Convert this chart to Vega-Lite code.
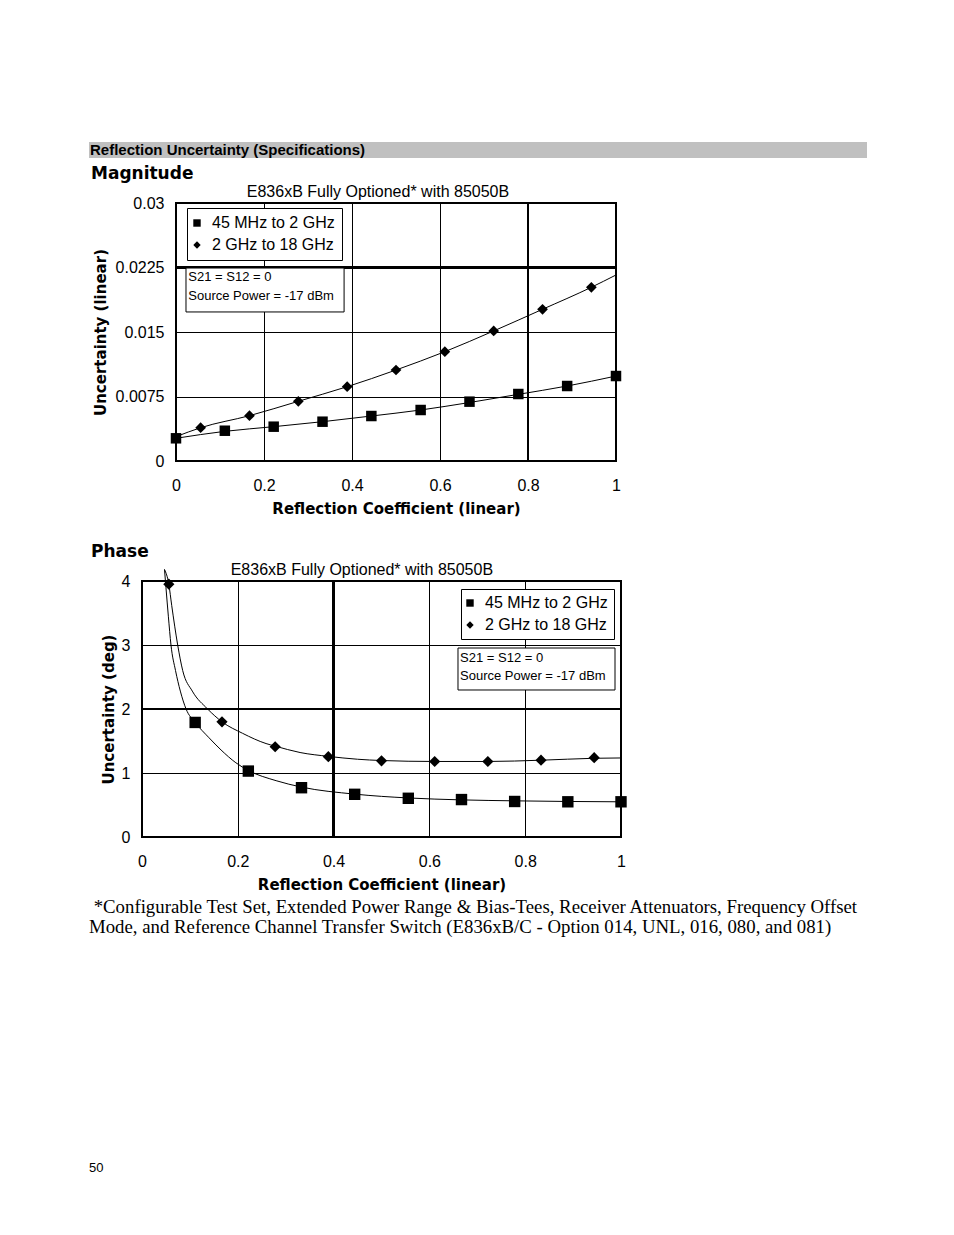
{
  "$schema": "https://vega.github.io/schema/vega-lite/v6.json",
  "background": "white",
  "padding": {"left": 89, "top": 142, "right": 0, "bottom": 0},
  "spacing": 6,
  "title": {
    "text": ["\u200b\u00a0*Configurable Test Set, Extended Power Range & Bias-Tees, Receiver Attenuators, Frequency Offset", "Mode, and Reference Channel Transfer Switch (E836xB/C - Option 014, UNL, 016, 080, and 081)"],
    "subtitle": "50",
    "orient": "bottom",
    "anchor": "start",
    "font": "Liberation Serif",
    "fontSize": 18.8,
    "fontWeight": "normal",
    "lineHeight": 20,
    "offset": 5,
    "color": "black",
    "subtitleFont": "Liberation Sans",
    "subtitleFontSize": 13,
    "subtitleColor": "black",
    "subtitlePadding": 225
  },
  "datasets": {
    "heading": [{"label": "Reflection Uncertainty (Specifications)"}],
    "chartnote": [{"label": "E836xB Fully Optioned* with 85050B", "note": "S21 = S12 = 0\nSource Power = -17 dBm"}],
    "mag_pts": [
      {"series": "45 MHz to 2 GHz", "rc": 0.0, "unc": 0.00264},
      {"series": "45 MHz to 2 GHz", "rc": 0.111, "unc": 0.00352},
      {"series": "45 MHz to 2 GHz", "rc": 0.222, "unc": 0.00399},
      {"series": "45 MHz to 2 GHz", "rc": 0.333, "unc": 0.00457},
      {"series": "45 MHz to 2 GHz", "rc": 0.444, "unc": 0.00523},
      {"series": "45 MHz to 2 GHz", "rc": 0.556, "unc": 0.00593},
      {"series": "45 MHz to 2 GHz", "rc": 0.667, "unc": 0.0069},
      {"series": "45 MHz to 2 GHz", "rc": 0.778, "unc": 0.00779},
      {"series": "45 MHz to 2 GHz", "rc": 0.889, "unc": 0.00872},
      {"series": "45 MHz to 2 GHz", "rc": 1.0, "unc": 0.00988},
      {"series": "2 GHz to 18 GHz", "rc": 0.056, "unc": 0.00387},
      {"series": "2 GHz to 18 GHz", "rc": 0.167, "unc": 0.00527},
      {"series": "2 GHz to 18 GHz", "rc": 0.278, "unc": 0.00694},
      {"series": "2 GHz to 18 GHz", "rc": 0.389, "unc": 0.00864},
      {"series": "2 GHz to 18 GHz", "rc": 0.5, "unc": 0.01058},
      {"series": "2 GHz to 18 GHz", "rc": 0.611, "unc": 0.01271},
      {"series": "2 GHz to 18 GHz", "rc": 0.722, "unc": 0.01512},
      {"series": "2 GHz to 18 GHz", "rc": 0.833, "unc": 0.01764},
      {"series": "2 GHz to 18 GHz", "rc": 0.944, "unc": 0.0202}
    ],
    "mag_curve": [
      {"series": "45 MHz to 2 GHz", "rc": 0.0, "unc": 0.00264},
      {"series": "45 MHz to 2 GHz", "rc": 0.111, "unc": 0.00345},
      {"series": "45 MHz to 2 GHz", "rc": 0.222, "unc": 0.00399},
      {"series": "45 MHz to 2 GHz", "rc": 0.333, "unc": 0.00457},
      {"series": "45 MHz to 2 GHz", "rc": 0.444, "unc": 0.00523},
      {"series": "45 MHz to 2 GHz", "rc": 0.556, "unc": 0.00593},
      {"series": "45 MHz to 2 GHz", "rc": 0.667, "unc": 0.0068},
      {"series": "45 MHz to 2 GHz", "rc": 0.778, "unc": 0.00775},
      {"series": "45 MHz to 2 GHz", "rc": 0.889, "unc": 0.00872},
      {"series": "45 MHz to 2 GHz", "rc": 1.0, "unc": 0.00988},
      {"series": "2 GHz to 18 GHz", "rc": 0.0, "unc": 0.00283},
      {"series": "2 GHz to 18 GHz", "rc": 0.056, "unc": 0.00387},
      {"series": "2 GHz to 18 GHz", "rc": 0.167, "unc": 0.00527},
      {"series": "2 GHz to 18 GHz", "rc": 0.278, "unc": 0.00694},
      {"series": "2 GHz to 18 GHz", "rc": 0.389, "unc": 0.00864},
      {"series": "2 GHz to 18 GHz", "rc": 0.5, "unc": 0.01058},
      {"series": "2 GHz to 18 GHz", "rc": 0.611, "unc": 0.01271},
      {"series": "2 GHz to 18 GHz", "rc": 0.722, "unc": 0.01512},
      {"series": "2 GHz to 18 GHz", "rc": 0.833, "unc": 0.01764},
      {"series": "2 GHz to 18 GHz", "rc": 0.944, "unc": 0.0202},
      {"series": "2 GHz to 18 GHz", "rc": 1.0, "unc": 0.02163}
    ],
    "ph_pts": [
      {"series": "45 MHz to 2 GHz", "rc": 0.111, "unc": 1.79},
      {"series": "45 MHz to 2 GHz", "rc": 0.222, "unc": 1.03},
      {"series": "45 MHz to 2 GHz", "rc": 0.333, "unc": 0.77},
      {"series": "45 MHz to 2 GHz", "rc": 0.444, "unc": 0.667},
      {"series": "45 MHz to 2 GHz", "rc": 0.556, "unc": 0.605},
      {"series": "45 MHz to 2 GHz", "rc": 0.667, "unc": 0.585},
      {"series": "45 MHz to 2 GHz", "rc": 0.778, "unc": 0.555},
      {"series": "45 MHz to 2 GHz", "rc": 0.889, "unc": 0.55},
      {"series": "45 MHz to 2 GHz", "rc": 1.0, "unc": 0.55},
      {"series": "2 GHz to 18 GHz", "rc": 0.056, "unc": 3.95},
      {"series": "2 GHz to 18 GHz", "rc": 0.167, "unc": 1.8},
      {"series": "2 GHz to 18 GHz", "rc": 0.278, "unc": 1.41},
      {"series": "2 GHz to 18 GHz", "rc": 0.389, "unc": 1.255},
      {"series": "2 GHz to 18 GHz", "rc": 0.5, "unc": 1.19},
      {"series": "2 GHz to 18 GHz", "rc": 0.611, "unc": 1.18},
      {"series": "2 GHz to 18 GHz", "rc": 0.722, "unc": 1.18},
      {"series": "2 GHz to 18 GHz", "rc": 0.833, "unc": 1.2},
      {"series": "2 GHz to 18 GHz", "rc": 0.944, "unc": 1.24}
    ],
    "ph_curve": [
      {"series": "45 MHz to 2 GHz", "rc": 0.047, "unc": 4.18},
      {"series": "45 MHz to 2 GHz", "rc": 0.05, "unc": 3.9},
      {"series": "45 MHz to 2 GHz", "rc": 0.055, "unc": 3.45},
      {"series": "45 MHz to 2 GHz", "rc": 0.0605, "unc": 3.0},
      {"series": "45 MHz to 2 GHz", "rc": 0.07, "unc": 2.6},
      {"series": "45 MHz to 2 GHz", "rc": 0.08, "unc": 2.28},
      {"series": "45 MHz to 2 GHz", "rc": 0.092, "unc": 2.0},
      {"series": "45 MHz to 2 GHz", "rc": 0.111, "unc": 1.79},
      {"series": "45 MHz to 2 GHz", "rc": 0.14, "unc": 1.55},
      {"series": "45 MHz to 2 GHz", "rc": 0.165, "unc": 1.36},
      {"series": "45 MHz to 2 GHz", "rc": 0.196, "unc": 1.16},
      {"series": "45 MHz to 2 GHz", "rc": 0.222, "unc": 1.04},
      {"series": "45 MHz to 2 GHz", "rc": 0.28, "unc": 0.88},
      {"series": "45 MHz to 2 GHz", "rc": 0.333, "unc": 0.78},
      {"series": "45 MHz to 2 GHz", "rc": 0.444, "unc": 0.67},
      {"series": "45 MHz to 2 GHz", "rc": 0.556, "unc": 0.61},
      {"series": "45 MHz to 2 GHz", "rc": 0.667, "unc": 0.58},
      {"series": "45 MHz to 2 GHz", "rc": 0.778, "unc": 0.565},
      {"series": "45 MHz to 2 GHz", "rc": 0.889, "unc": 0.555},
      {"series": "45 MHz to 2 GHz", "rc": 1.0, "unc": 0.55},
      {"series": "2 GHz to 18 GHz", "rc": 0.047, "unc": 4.18},
      {"series": "2 GHz to 18 GHz", "rc": 0.056, "unc": 3.95},
      {"series": "2 GHz to 18 GHz", "rc": 0.062, "unc": 3.62},
      {"series": "2 GHz to 18 GHz", "rc": 0.0745, "unc": 3.0},
      {"series": "2 GHz to 18 GHz", "rc": 0.085, "unc": 2.6},
      {"series": "2 GHz to 18 GHz", "rc": 0.105, "unc": 2.28},
      {"series": "2 GHz to 18 GHz", "rc": 0.137, "unc": 2.0},
      {"series": "2 GHz to 18 GHz", "rc": 0.167, "unc": 1.8},
      {"series": "2 GHz to 18 GHz", "rc": 0.21, "unc": 1.62},
      {"series": "2 GHz to 18 GHz", "rc": 0.259, "unc": 1.46},
      {"series": "2 GHz to 18 GHz", "rc": 0.278, "unc": 1.42},
      {"series": "2 GHz to 18 GHz", "rc": 0.33, "unc": 1.32},
      {"series": "2 GHz to 18 GHz", "rc": 0.389, "unc": 1.26},
      {"series": "2 GHz to 18 GHz", "rc": 0.45, "unc": 1.215},
      {"series": "2 GHz to 18 GHz", "rc": 0.5, "unc": 1.195},
      {"series": "2 GHz to 18 GHz", "rc": 0.611, "unc": 1.18},
      {"series": "2 GHz to 18 GHz", "rc": 0.722, "unc": 1.18},
      {"series": "2 GHz to 18 GHz", "rc": 0.833, "unc": 1.2},
      {"series": "2 GHz to 18 GHz", "rc": 0.944, "unc": 1.23},
      {"series": "2 GHz to 18 GHz", "rc": 1.0, "unc": 1.235}
    ]
  },
  "resolve": {
    "scale": {"shape": "independent"},
    "legend": {"shape": "independent"}
  },
  "config": {
    "font": "Liberation Sans",
    "view": {"stroke": "black", "strokeWidth": 2},
    "axis": {
      "domain": false,
      "ticks": false,
      "tickSize": 0,
      "grid": true,
      "gridColor": "black",
      "gridOpacity": 1,
      "gridWidth": 1,
      "labelFont": "Liberation Sans",
      "labelFontSize": 16,
      "labelColor": "black",
      "titleFont": "DejaVu Sans",
      "titleFontSize": 15,
      "titleFontWeight": "bold",
      "titleColor": "black"
    },
    "axisX": {"labelPadding": 16, "titlePadding": 8, "labelFlush": false, "labelOverlap": false},
    "axisY": {"labelPadding": 12, "labelOverlap": false},
    "legend": {
      "title": null,
      "fillColor": "white",
      "strokeColor": "black",
      "cornerRadius": 0,
      "labelFont": "Liberation Sans",
      "labelFontSize": 16,
      "labelColor": "black",
      "symbolSize": 55,
      "symbolFillColor": "black",
      "symbolStrokeColor": "black",
      "rowPadding": 6,
      "labelOffset": 7,
      "symbolOffset": -5
    }
  },
  "vconcat": [
    {
      "width": 778,
      "height": 16,
      "view": {"fill": "#c0c0c0", "stroke": null},
      "data": {"name": "heading"},
      "mark": {"type": "text", "align": "left", "baseline": "middle", "font": "Liberation Sans", "fontWeight": "bold", "fontSize": 15, "color": "black", "dx": 1},
      "encoding": {
        "text": {"field": "label"},
        "x": {"datum": 0, "type": "quantitative", "scale": {"domain": [0, 1]}, "axis": null},
        "y": {"datum": 0.5, "type": "quantitative", "scale": {"domain": [0, 1]}, "axis": null}
      }
    },
    {
      "spacing": 0,
      "resolve": {
        "scale": {"shape": "independent"},
        "legend": {"shape": "independent"}
      },
      "hconcat": [
        {
          "width": 1,
          "height": 1,
          "view": {"stroke": null},
          "data": {"name": "heading"},
          "mark": {"type": "text", "text": ""},
          "encoding": {}
        },
        {
          "width": 440,
          "height": 258,
          "title": {"text": "Magnitude", "anchor": "start", "frame": "bounds", "font": "DejaVu Sans", "fontSize": 17, "fontWeight": "bold", "color": "black", "dx": -2, "offset": 1},
          "layer": [
            {
              "data": {"name": "mag_curve"},
              "mark": {"type": "line", "color": "black", "strokeWidth": 1, "interpolate": "monotone"},
              "encoding": {
                "x": {"field": "rc", "type": "quantitative", "title": "Reflection Coefficient (linear)", "scale": {"domain": [0, 1], "nice": false}, "axis": {"values": [0, 0.2, 0.4, 0.6, 0.8, 1], "format": "~g"}},
                "y": {"field": "unc", "type": "quantitative", "title": "Uncertainty (linear)", "scale": {"domain": [0, 0.03], "nice": false, "zero": true}, "axis": {"values": [0, 0.0075, 0.015, 0.0225, 0.03], "format": ".4~f", "minExtent": 60, "maxExtent": 60, "titlePadding": 8}},
                "detail": {"field": "series"}
              }
            },
            {
              "data": {"name": "mag_pts"},
              "mark": {"type": "rule", "color": "black", "strokeWidth": 2},
              "encoding": {"x": {"datum": 0.8, "type": "quantitative"}}
            },
            {
              "data": {"name": "mag_pts"},
              "mark": {"type": "rule", "color": "black", "strokeWidth": 2},
              "encoding": {"y": {"datum": 0.0225, "type": "quantitative"}}
            },
            {
              "data": {"name": "mag_pts"},
              "transform": [{"filter": "datum.series == '45 MHz to 2 GHz'"}],
              "mark": {"type": "point", "filled": true, "color": "black", "opacity": 1, "size": 110},
              "encoding": {
                "x": {"field": "rc", "type": "quantitative", "title": "Reflection Coefficient (linear)"},
                "y": {"field": "unc", "type": "quantitative", "title": "Uncertainty (linear)"},
                "shape": {"field": "series", "type": "nominal", "scale": {"domain": ["45 MHz to 2 GHz", "2 GHz to 18 GHz"], "range": ["square", "diamond"]}, "legend": {"orient": "none", "legendX": 11, "legendY": 5, "padding": 7}}
              }
            },
            {
              "data": {"name": "mag_pts"},
              "transform": [{"filter": "datum.series == '2 GHz to 18 GHz'"}],
              "mark": {"type": "point", "filled": true, "color": "black", "opacity": 1, "size": 115},
              "encoding": {
                "x": {"field": "rc", "type": "quantitative", "title": "Reflection Coefficient (linear)"},
                "y": {"field": "unc", "type": "quantitative", "title": "Uncertainty (linear)"},
                "shape": {"field": "series", "type": "nominal", "scale": {"domain": ["45 MHz to 2 GHz", "2 GHz to 18 GHz"], "range": ["square", "diamond"]}, "legend": {"orient": "none", "legendX": 11, "legendY": 5, "padding": 7}}
              }
            },
            {
              "data": {"name": "chartnote"},
              "mark": {"type": "rect", "fill": "white", "stroke": "black", "strokeWidth": 1},
              "encoding": {
                "x": {"datum": 0.0227, "type": "quantitative"},
                "x2": {"datum": 0.382},
                "y": {"datum": 0.01733, "type": "quantitative"},
                "y2": {"datum": 0.02244}
              }
            },
            {
              "data": {"name": "chartnote"},
              "mark": {"type": "text", "align": "left", "baseline": "top", "font": "Liberation Sans", "fontSize": 13, "color": "black", "lineBreak": "\n", "lineHeight": 19},
              "encoding": {
                "text": {"field": "note"},
                "x": {"datum": 0.028, "type": "quantitative"},
                "y": {"datum": 0.0221, "type": "quantitative"}
              }
            },
            {
              "data": {"name": "chartnote"},
              "mark": {"type": "text", "align": "center", "baseline": "bottom", "font": "Liberation Sans", "fontSize": 16, "color": "black", "dy": -3},
              "encoding": {
                "text": {"field": "label"},
                "x": {"datum": 0.459, "type": "quantitative"},
                "y": {"datum": 0.03, "type": "quantitative"}
              }
            }
          ]
        }
      ]
    },
    {
      "spacing": 0,
      "resolve": {
        "scale": {"shape": "independent"},
        "legend": {"shape": "independent"}
      },
      "hconcat": [
        {
          "width": 1,
          "height": 1,
          "view": {"stroke": null},
          "data": {"name": "heading"},
          "mark": {"type": "text", "text": ""},
          "encoding": {}
        },
        {
          "width": 479,
          "height": 256,
          "title": {"text": ["", "Phase"], "lineHeight": 19, "anchor": "start", "frame": "bounds", "font": "DejaVu Sans", "fontSize": 17, "fontWeight": "bold", "color": "black", "dx": -10, "offset": 1},
          "layer": [
            {
              "data": {"name": "ph_curve"},
              "mark": {"type": "line", "color": "black", "strokeWidth": 1, "interpolate": "monotone"},
              "encoding": {
                "x": {"field": "rc", "type": "quantitative", "title": "Reflection Coefficient (linear)", "scale": {"domain": [0, 1], "nice": false}, "axis": {"values": [0, 0.2, 0.4, 0.6, 0.8, 1], "format": "~g"}},
                "y": {"field": "unc", "type": "quantitative", "title": "Uncertainty (deg)", "scale": {"domain": [0, 4], "nice": false, "zero": true}, "axis": {"values": [0, 1, 2, 3, 4], "format": "~g", "minExtent": 21, "maxExtent": 21, "titlePadding": 5}},
                "detail": {"field": "series"}
              }
            },
            {
              "data": {"name": "ph_pts"},
              "mark": {"type": "rule", "color": "black", "strokeWidth": 2},
              "encoding": {"x": {"datum": 0.4, "type": "quantitative"}}
            },
            {
              "data": {"name": "ph_pts"},
              "mark": {"type": "rule", "color": "black", "strokeWidth": 2},
              "encoding": {"y": {"datum": 2, "type": "quantitative"}}
            },
            {
              "data": {"name": "ph_pts"},
              "transform": [{"filter": "datum.series == '45 MHz to 2 GHz'"}],
              "mark": {"type": "point", "filled": true, "color": "black", "opacity": 1, "size": 130},
              "encoding": {
                "x": {"field": "rc", "type": "quantitative", "title": "Reflection Coefficient (linear)"},
                "y": {"field": "unc", "type": "quantitative", "title": "Uncertainty (deg)"},
                "shape": {"field": "series", "type": "nominal", "scale": {"domain": ["45 MHz to 2 GHz", "2 GHz to 18 GHz"], "range": ["square", "diamond"]}, "legend": {"orient": "none", "legendX": 319, "legendY": 8, "padding": 6}}
              }
            },
            {
              "data": {"name": "ph_pts"},
              "transform": [{"filter": "datum.series == '2 GHz to 18 GHz'"}],
              "mark": {"type": "point", "filled": true, "color": "black", "opacity": 1, "size": 125},
              "encoding": {
                "x": {"field": "rc", "type": "quantitative", "title": "Reflection Coefficient (linear)"},
                "y": {"field": "unc", "type": "quantitative", "title": "Uncertainty (deg)"},
                "shape": {"field": "series", "type": "nominal", "scale": {"domain": ["45 MHz to 2 GHz", "2 GHz to 18 GHz"], "range": ["square", "diamond"]}, "legend": {"orient": "none", "legendX": 319, "legendY": 8, "padding": 6}}
              }
            },
            {
              "data": {"name": "chartnote"},
              "mark": {"type": "rect", "fill": "white", "stroke": "black", "strokeWidth": 1},
              "encoding": {
                "x": {"datum": 0.6597, "type": "quantitative"},
                "x2": {"datum": 0.9875},
                "y": {"datum": 2.297, "type": "quantitative"},
                "y2": {"datum": 2.953}
              }
            },
            {
              "data": {"name": "chartnote"},
              "mark": {"type": "text", "align": "left", "baseline": "top", "font": "Liberation Sans", "fontSize": 13, "color": "black", "lineBreak": "\n", "lineHeight": 18},
              "encoding": {
                "text": {"field": "note"},
                "x": {"datum": 0.664, "type": "quantitative"},
                "y": {"datum": 2.895, "type": "quantitative"}
              }
            },
            {
              "data": {"name": "chartnote"},
              "mark": {"type": "text", "align": "center", "baseline": "bottom", "font": "Liberation Sans", "fontSize": 16, "color": "black", "dy": -3},
              "encoding": {
                "text": {"field": "label"},
                "x": {"datum": 0.459, "type": "quantitative"},
                "y": {"datum": 4, "type": "quantitative"}
              }
            }
          ]
        }
      ]
    }
  ]
}
